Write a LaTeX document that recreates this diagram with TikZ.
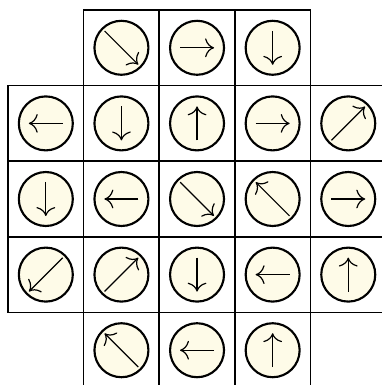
\documentclass[tikz,border=0pt]{standalone}
\usepackage{tikz}
\usetikzlibrary{arrows.meta,calc}
\definecolor{disccream}{RGB}{254,251,232}

\begin{document}
\begin{tikzpicture}[
  cell/.style={draw=black, semithick, minimum size=1cm, inner sep=0pt, outer sep=0pt},
  disc/.style={circle, draw=black, thick, fill=disccream, minimum size=0.714cm, inner sep=0pt},
  arr/.style={black, line width=0.45pt, -{To[scale=1.3]}}
]
\useasboundingbox (-0.106,0.132) rectangle (4.934,-4.960);

% board: column/row/direction of the arrow
\foreach \c/\r/\a in {2/1/-45, 3/1/0, 4/1/-90,
  1/2/180, 2/2/-90, 3/2/90, 4/2/0, 5/2/45,
  1/3/-90, 2/3/180, 3/3/-45, 4/3/135, 5/3/0,
  1/4/-135, 2/4/45, 3/4/-90, 4/4/180, 5/4/90,
  2/5/135, 3/5/180, 4/5/90}
{
  \node[cell] (sq-\c-\r) at (\c-0.5,-\r+0.5) {};
  \node[disc] (d-\c-\r) at (sq-\c-\r) {};
  \pgfmathsetmacro{\len}{ifthenelse(mod(\a,90)==0,0.225,0.315)}
  \draw[arr] ($(d-\c-\r)+(\a+180:\len)$) -- ($(d-\c-\r)+(\a:\len)$);
}
\end{tikzpicture}
\end{document}
